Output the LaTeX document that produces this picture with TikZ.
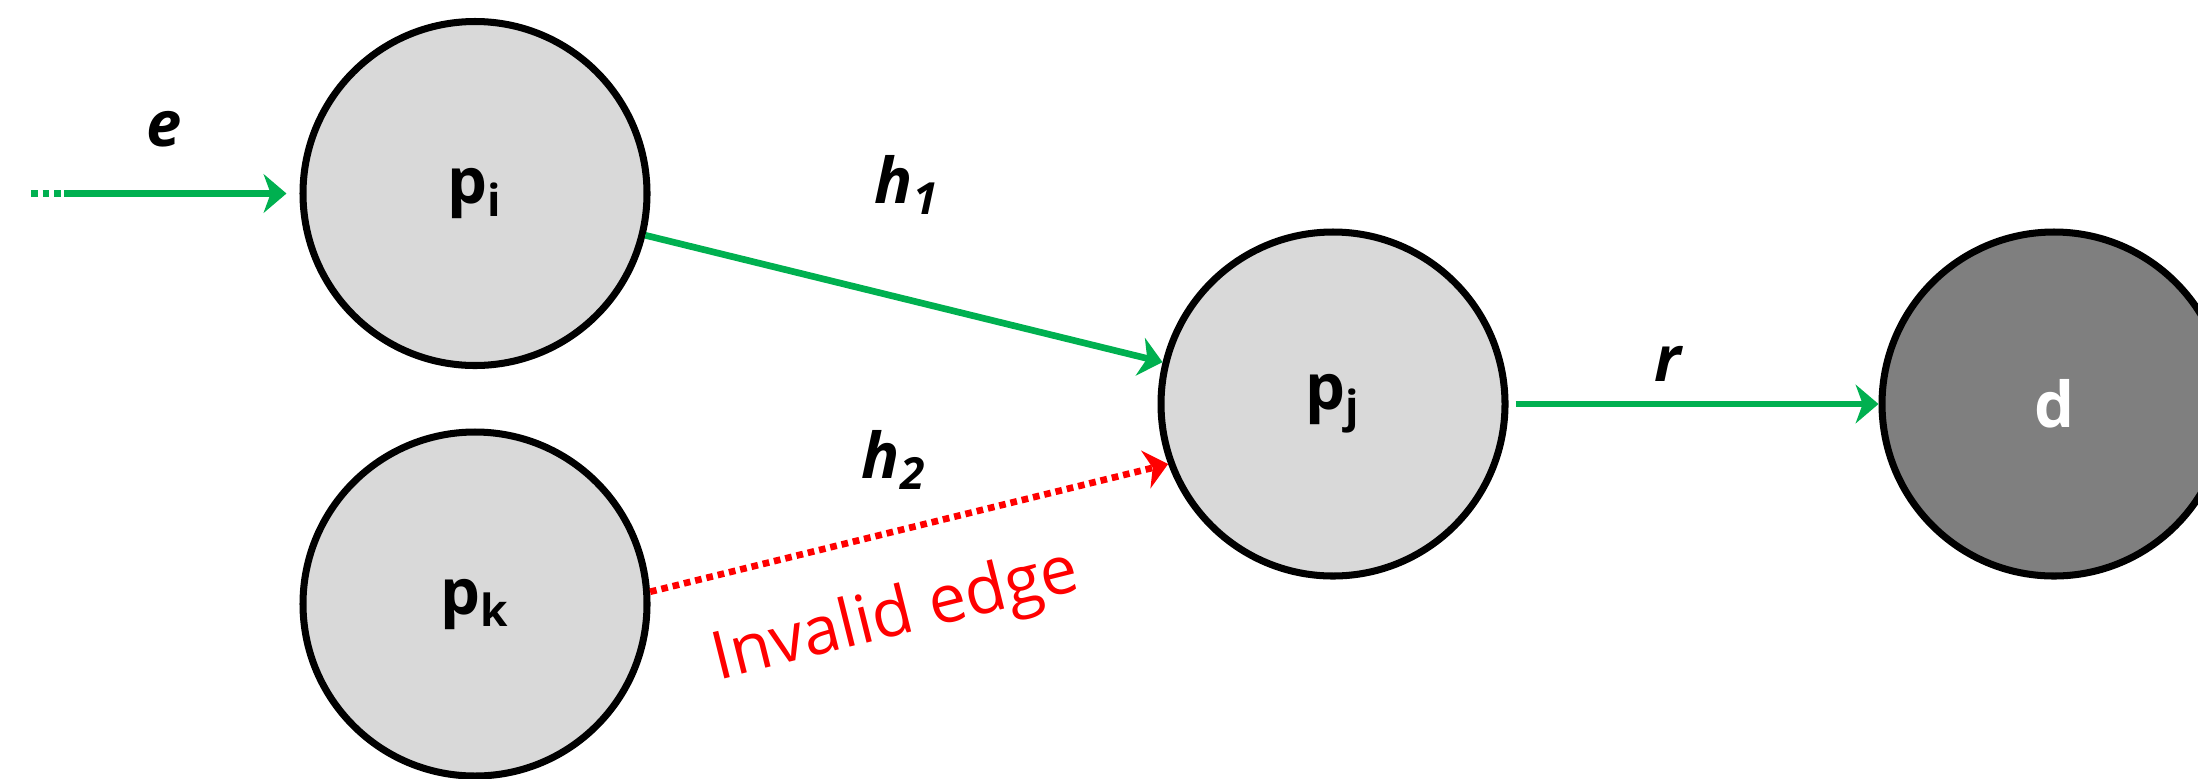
\documentclass[tikz,border=0pt]{standalone}
\usepackage{fontspec}
\setmainfont{Open Sans}
\usepackage{tikz}
\usetikzlibrary{arrows.meta}
\usepackage{xcolor}
\definecolor{okcol}{HTML}{00B050}
\definecolor{badcol}{HTML}{FF0000}
\definecolor{nodecol}{HTML}{D9D9D9}
\definecolor{dstcol}{HTML}{7F7F7F}

\begin{document}
\begin{tikzpicture}[
          hop/.style={circle,draw=black,line width=2pt,fill=nodecol,minimum size=3.44cm,
            inner sep=0pt,font=\bfseries\fontsize{18}{20}\selectfont},
          link/.style={line width=1.9pt,-{Stealth[length=6.5pt,width=11pt,inset=2pt]}},
          dots/.style={line width=1.9pt,dash pattern=on 1.9pt off 1.4pt},
          lbl/.style={font=\bfseries\itshape\fontsize{18}{20}\selectfont}
        ]
        \useasboundingbox (0,0) rectangle (21.98,7.78);
        \node[hop] (pi) at (4.75,5.845) {p\textsubscript{i}};
        \node[hop] (pk) at (4.75,1.74) {p\textsubscript{k}};
        \node[hop] (pj) at (13.33,3.74) {p\textsubscript{j}};
        \node[hop,fill=dstcol,text=white] (d) at (20.54,3.74) {d};
        \coordinate (efar) at (0.31,5.845);
        \coordinate (ein) at (0.64,5.845);
        \draw[dots,okcol] (efar) -- (ein);
        \draw[link,okcol,shorten >=0.13cm] (ein) -- (pi);
        \draw[link,okcol] (pi) -- (pj);
        \draw[link,dots,badcol] (pk.4) -- (pj.200);
        \draw[link,okcol,shorten <=0.07cm] (pj) -- (d);
        \node[lbl] (le) at (1.64,6.49) {e};
        \node[lbl] (lh1) at (9.07,5.93) {h\textsubscript{1}};
        \node[lbl] (lh2) at (8.94,3.18) {h\textsubscript{2}};
        \node[lbl] (lr) at (16.68,4.14) {r};
        \node[badcol,rotate=14,font=\fontsize{19}{21}\selectfont] (bad) at (8.96,1.6) {Invalid edge};
      \end{tikzpicture}
\end{document}
